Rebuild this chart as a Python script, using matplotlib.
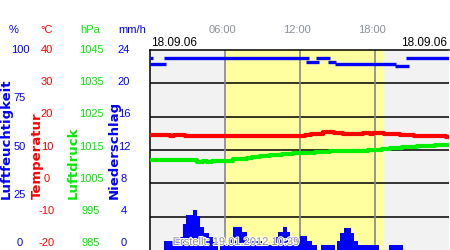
import matplotlib.pyplot as plt
import matplotlib.patheffects as pe

plt.rcParams['font.family'] = ['Liberation Sans', 'DejaVu Sans']

# humidity (%) as horizontal segments: start hour, end hour, value
hum_start = [0, 0, 1.1, 12.5, 13.3, 14.2, 14.8, 19.6, 20.5]
hum_end = [0.2, 1.3, 12.7, 13.5, 14.4, 14.9, 19.7, 20.7, 23.92]
hum_val = [96, 93, 96, 94, 96, 94, 93, 92, 96]

# temperature (°C), step data
temp_t = [0, 1.6, 1.9, 2.8, 12.0, 12.4, 12.9, 13.8, 14.7, 15.4, 17.0, 17.6, 17.8, 18.7, 20.0, 21.1, 23.7, 23.92]
temp_v = [14.5, 14.3, 14.5, 14.2, 14.3, 14.4, 14.8, 15.3, 15.0, 14.7, 15.0, 14.7, 15.0, 14.7, 14.5, 14.2, 13.9, 13.9]

# pressure (hPa), step data
pres_t = [0, 3.73, 4.27, 4.53, 4.93, 6.27, 6.67, 7.73, 8.13, 8.8, 9.6, 10.53, 11.47, 12.0, 13.2, 14.4, 15.3, 17.47, 18.53, 19.2, 20.13, 21.33, 22.8, 23.92]
pres_v = [1012.0, 1011.5, 1011.8, 1011.5, 1011.6, 1011.8, 1012.2, 1012.5, 1012.8, 1013.1, 1013.5, 1013.8, 1014.1, 1014.0, 1014.3, 1014.6, 1014.7, 1014.9, 1015.2, 1015.5, 1015.8, 1016.2, 1016.5, 1016.5]

# precipitation (mm/h): start hour, end hour, value
rain_start = [1.12, 2.0, 2.67, 2.88, 3.42, 3.74, 4.0, 4.35, 4.75, 5.0, 5.6, 6.24, 6.67, 7.33, 7.73, 8.0, 8.93, 9.87, 10.27, 10.67, 10.93, 11.2, 11.73, 12.0, 12.58, 12.98, 13.68, 14.93, 15.2, 15.55, 16.08, 16.35, 16.62, 19.12]
rain_end = [2.0, 2.67, 2.88, 3.42, 3.74, 4.0, 4.35, 4.75, 5.0, 5.47, 6.24, 6.67, 7.33, 7.73, 8.0, 8.93, 9.87, 10.27, 10.67, 10.93, 11.2, 11.73, 12.0, 12.58, 12.98, 13.33, 14.8, 15.2, 15.55, 16.08, 16.35, 16.62, 18.32, 20.22]
rain_val = [1.1, 1.6, 3.1, 4.2, 4.8, 4.1, 2.8, 2.0, 1.6, 1.0, 0.6, 1.4, 2.8, 2.2, 1.4, 1.1, 0.6, 1.6, 2.2, 2.8, 2.2, 1.6, 1.1, 1.7, 1.1, 0.6, 0.6, 1.1, 2.1, 2.7, 2.1, 1.1, 0.6, 0.6]

daylight = (6.05, 18.7)
hour_ticks = [6, 12, 18]
hour_labels = ['06:00', '12:00', '18:00']
date_label = '18.09.06'
created = 'Erstellt: 19.01.2012 10:39'

hum_ticks = ['100', '75', '50', '25', '0']
temp_ticks = ['40', '30', '20', '10', '0', '-10', '-20']
pres_ticks = ['1045', '1035', '1025', '1015', '1005', '995', '985']
rain_ticks = ['24', '20', '16', '12', '8', '4', '0']

BLUE = '#0000ff'
RED = '#ff0000'
GREEN = '#00ee00'

W, H = 450, 250
fig = plt.figure(figsize=(4.5, 2.5), dpi=100)
ax = fig.add_axes([150 / W, 0, 299 / W, 200 / H])
ax.set_facecolor('#f2f2f2')
ax.set_xlim(0, 23.92)
ax.set_ylim(0, 24)
ax.axvspan(*daylight, color='#ffffa0', lw=0, zorder=0)
for y in [4, 8, 12, 16, 20]:
    ax.axhline(y, color='black', lw=1.1, zorder=1)
for t in hour_ticks:
    ax.axvline(t, color='#888888', lw=1.2, zorder=1)
ax.bar(rain_start, rain_val, width=[e - s for s, e in zip(rain_start, rain_end)],
       align='edge', color=BLUE, lw=0, zorder=2)
ax.set_xticks([])
ax.set_yticks([])
for s in ['bottom', 'right']:
    ax.spines[s].set_visible(False)
for s in ['left', 'top']:
    ax.spines[s].set_color('black')
    ax.spines[s].set_linewidth(1.1)

ax_p = ax.twinx()
ax_p.set_ylim(985, 1045)
ax_p.step(pres_t, pres_v, where='post', color=GREEN, lw=3)
ax_t = ax.twinx()
ax_t.set_ylim(-20, 40)
ax_t.step(temp_t, temp_v, where='post', color=RED, lw=3)
ax_h = ax.twinx()
ax_h.set_ylim(0, 100)
ax_h.hlines(hum_val, hum_start, hum_end, color=BLUE, lw=2.4)
for a in [ax_p, ax_t, ax_h]:
    a.set_xlim(0, 23.92)
    a.axis('off')

fig.text(236 / W, 1 - 242 / H, created, ha='center', va='center',
         fontsize=8, color='#8c8c8c',
         path_effects=[pe.withStroke(linewidth=1.5, foreground='white')])

# time labels and dates
for t, lab in zip(hour_ticks, hour_labels):
    fig.text((150 + t * 12.5 - 3) / W, 1 - 30 / H, lab, ha='center', va='center',
             fontsize=8, color='#8a909a')
fig.text(151 / W, 1 - 43 / H, date_label, ha='left', va='center', fontsize=8.5, color='black')
fig.text(447 / W, 1 - 43 / H, date_label, ha='right', va='center', fontsize=8.5, color='black')

# left axis columns
headers = [('%', 14, BLUE), ('°C', 47, RED), ('hPa', 90, GREEN), ('mm/h', 132, BLUE)]
for lab, x, c in headers:
    fig.text(x / W, 1 - 30 / H, lab, ha='center', va='center', fontsize=8, color=c)


def column(labels, x, color, top=50, bottom=243):
    step = (bottom - top) / (len(labels) - 1)
    for i, lab in enumerate(labels):
        fig.text(x / W, 1 - (top + i * step) / H, lab, ha='center', va='center',
                 fontsize=8, color=color)


column(hum_ticks, 20, BLUE)
column(temp_ticks, 47, RED)
column(pres_ticks, 91, GREEN)
column(rain_ticks, 124, BLUE)

titles = [('Luftfeuchtigkeit', 6, BLUE), ('Temperatur', 37, RED),
          ('Luftdruck', 73, GREEN), ('Niederschlag', 114, BLUE)]
for lab, x, c in titles:
    fig.text(x / W, 1 - 199 / H, lab, rotation=90, rotation_mode='anchor',
             ha='left', va='center', fontsize=9.5, fontweight='bold', color=c,
             family='DejaVu Sans')

fig.savefig('out.png', dpi=100)
